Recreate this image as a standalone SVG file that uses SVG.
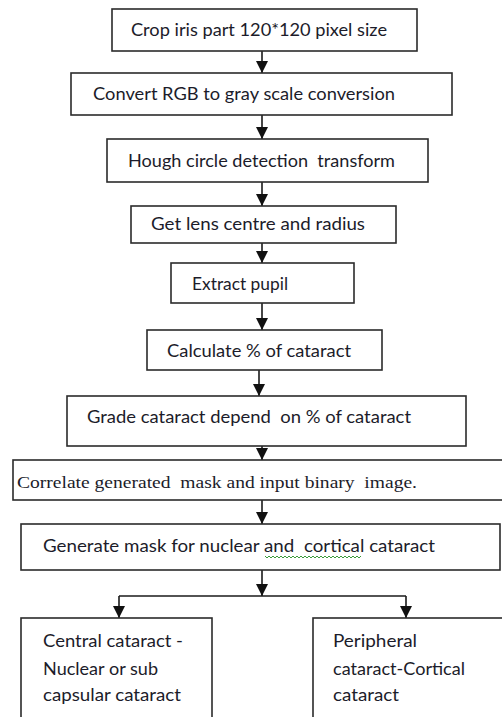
<svg xmlns="http://www.w3.org/2000/svg" width="502" height="717" viewBox="0 0 502 717">
  <style>
    .box { fill: #ffffff; stroke: #2b2b2b; stroke-width: 1.6; }
    .lbl { font-family: "Lato", "Liberation Sans", sans-serif; font-size: 16.5px; fill: #1c1c2a; white-space: pre; }
    .serif { font-family: "Liberation Serif", serif; font-size: 16px; fill: #1c1c2a; white-space: pre; }
    .conn { stroke: #1a1a1a; stroke-width: 1.6; fill: none; }
    .squiggle { stroke: #3a9a3a; stroke-width: 1; fill: none; }
  </style>
  <defs>
    <marker id="arrow" markerUnits="userSpaceOnUse" markerWidth="13" markerHeight="13" viewBox="0 0 13 13" refX="12" refY="6.5" orient="auto">
      <path d="M0,0.5 L12,6.5 L0,12.5 Z" fill="#111111"/>
    </marker>
  </defs>
  <rect width="502" height="717" fill="#ffffff"/>

  <g id="connectors">
    <line class="conn" x1="262" y1="51" x2="262" y2="73" marker-end="url(#arrow)"/>
    <line class="conn" x1="262" y1="115" x2="262" y2="139" marker-end="url(#arrow)"/>
    <line class="conn" x1="262" y1="182" x2="262" y2="206" marker-end="url(#arrow)"/>
    <line class="conn" x1="262" y1="243" x2="262" y2="263" marker-end="url(#arrow)"/>
    <line class="conn" x1="262" y1="303" x2="262" y2="330" marker-end="url(#arrow)"/>
    <line class="conn" x1="259" y1="370" x2="259" y2="396" marker-end="url(#arrow)"/>
    <line class="conn" x1="262" y1="434" x2="262" y2="460" marker-end="url(#arrow)"/>
    <line class="conn" x1="262" y1="500" x2="262" y2="524" marker-end="url(#arrow)"/>
    <line class="conn" x1="262" y1="570" x2="262" y2="596" marker-end="url(#arrow)"/>
    <line class="conn" x1="119" y1="596" x2="406" y2="596"/>
    <line class="conn" x1="119" y1="596" x2="119" y2="618" marker-end="url(#arrow)"/>
    <line class="conn" x1="406" y1="596" x2="406" y2="618" marker-end="url(#arrow)"/>
  </g>

  <g id="crop">
    <rect class="box" x="112" y="9" width="305" height="42"/>
    <text class="lbl" x="131" y="36" textLength="256" lengthAdjust="spacingAndGlyphs">Crop iris part 120*120 pixel size</text>
  </g>
  <g id="gray">
    <rect class="box" x="71" y="73" width="381" height="42"/>
    <text class="lbl" x="93" y="100" textLength="302" lengthAdjust="spacingAndGlyphs">Convert RGB to gray scale conversion</text>
  </g>
  <g id="hough">
    <rect class="box" x="107" y="139" width="321" height="43"/>
    <text class="lbl" x="128" y="167" textLength="267" lengthAdjust="spacingAndGlyphs">Hough circle detection  transform</text>
  </g>
  <g id="lens">
    <rect class="box" x="131" y="206" width="265" height="37"/>
    <text class="lbl" x="151" y="230" textLength="214" lengthAdjust="spacingAndGlyphs">Get lens centre and radius</text>
  </g>
  <g id="pupil">
    <rect class="box" x="171" y="263" width="183" height="40"/>
    <text class="lbl" x="192" y="290" textLength="96" lengthAdjust="spacingAndGlyphs">Extract pupil</text>
  </g>
  <g id="percent">
    <rect class="box" x="147" y="330" width="235" height="40"/>
    <text class="lbl" x="167" y="357" textLength="184" lengthAdjust="spacingAndGlyphs">Calculate % of cataract</text>
  </g>
  <g id="grade">
    <rect class="box" x="67" y="396" width="399" height="50"/>
    <text class="lbl" x="87" y="423" textLength="324" lengthAdjust="spacingAndGlyphs">Grade cataract depend  on % of cataract</text>
  </g>
  <g id="correlate">
    <rect class="box" x="13" y="460" width="500" height="40"/>
    <text class="serif" x="17" y="488" textLength="400" lengthAdjust="spacingAndGlyphs">Correlate generated  mask and input binary  image.</text>
  </g>
  <g id="mask">
    <rect class="box" x="21" y="524" width="479" height="46"/>
    <text class="lbl" x="43" y="552" textLength="392" lengthAdjust="spacingAndGlyphs">Generate mask for nuclear and  cortical cataract</text>
    <path class="squiggle" d="M265,556 l2,2 l2,-2 l2,2 l2,-2 l2,2 l2,-2 l2,2 l2,-2 l2,2 l2,-2 l2,2 l2,-2 l2,2 l2,-2 l2,2 l2,-2 l2,2 l2,-2 l2,2 l2,-2 l2,2 l2,-2 l2,2 l2,-2 l2,2 l2,-2 l2,2 l2,-2 l2,2 l2,-2 l2,2 l2,-2 l2,2 l2,-2 l2,2 l2,-2 l2,2 l2,-2 l2,2 l2,-2 l2,2 l2,-2 l2,2 l2,-2 l2,2 l2,-2 l2,2 l2,-2"/>
  </g>
  <g id="central">
    <rect class="box" x="21" y="618" width="191" height="110"/>
    <text class="lbl" x="43" y="647" textLength="140" lengthAdjust="spacingAndGlyphs">Central cataract -</text>
    <text class="lbl" x="43" y="675" textLength="115" lengthAdjust="spacingAndGlyphs">Nuclear or sub</text>
    <text class="lbl" x="43" y="701" textLength="138" lengthAdjust="spacingAndGlyphs">capsular cataract</text>
  </g>
  <g id="peripheral">
    <rect class="box" x="313" y="618" width="200" height="110"/>
    <text class="lbl" x="333" y="647" textLength="84" lengthAdjust="spacingAndGlyphs">Peripheral</text>
    <text class="lbl" x="333" y="675" textLength="132" lengthAdjust="spacingAndGlyphs">cataract-Cortical</text>
    <text class="lbl" x="333" y="701" textLength="66" lengthAdjust="spacingAndGlyphs">cataract</text>
  </g>
</svg>
